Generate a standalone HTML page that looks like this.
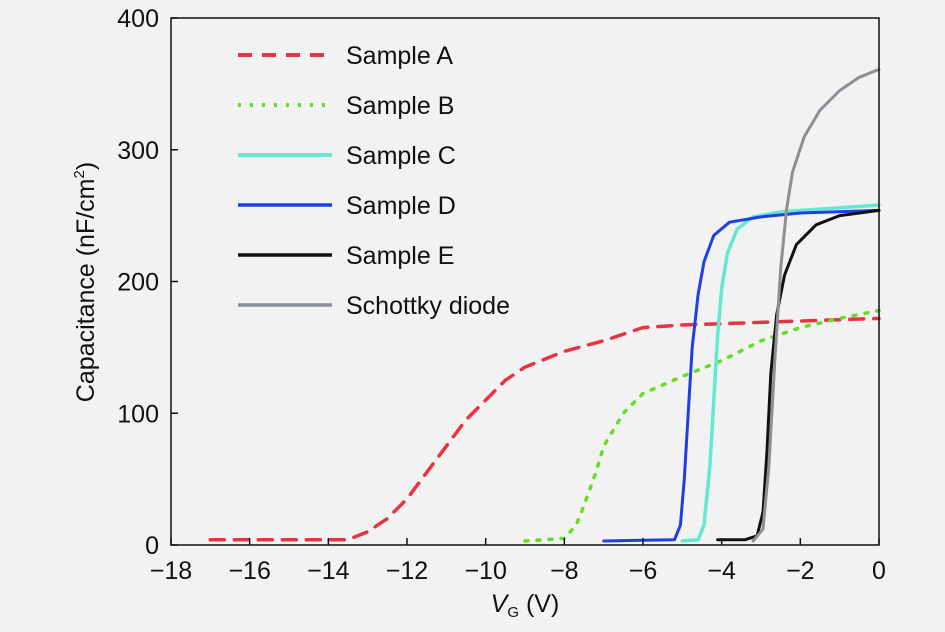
<!DOCTYPE html>
<html><head><meta charset="utf-8"><style>
body{margin:0;background:#f2f2f2;}
svg{display:block;font-family:"Liberation Sans",sans-serif;}
</style></head><body>
<svg id="c" width="945" height="632">
<rect width="945" height="632" fill="#f2f2f2"/>
<g id="marks"></g><g id="axes"></g><g id="legend"></g>
</svg>
<script>
const xTicks=[-18,-16,-14,-12,-10,-8,-6,-4,-2,0];
const yTicks=[0,100,200,300,400];
const seriesNames=["Sample A","Sample B","Sample C","Sample D","Sample E","Schottky diode"];
const aX=[-17,-13.5,-13,-12.5,-12,-11.5,-11,-10.5,-10,-9.5,-9,-8,-7,-6,-5,-4,-2,0];
const aY=[4,4,10,20,35,55,75,95,110,125,135,147,155,165,167,168,170,172];
const bX=[-9,-8,-7.7,-7.5,-7.2,-7,-6.5,-6,-5,-4,-3,-2,-1,0];
const bY=[3,5,15,30,55,75,100,115,128,140,155,165,172,178];
const cX=[-5,-4.6,-4.45,-4.3,-4.2,-4.1,-4,-3.85,-3.6,-3.2,-2.5,-1,0];
const cY=[3,4,15,60,110,160,195,222,240,249,253,256,258];
const dX=[-7,-5.2,-5.05,-4.95,-4.85,-4.75,-4.6,-4.45,-4.2,-3.8,-3,-2,0];
const dY=[3,4,15,50,100,150,190,215,235,245,249,252,254];
const eX=[-4.1,-3.4,-3.1,-2.95,-2.85,-2.75,-2.6,-2.4,-2.1,-1.6,-1,0];
const eY=[4,4,7,25,70,130,175,205,228,243,250,254];
const sX=[-3.2,-2.95,-2.8,-2.65,-2.5,-2.35,-2.2,-1.9,-1.5,-1,-0.5,0];
const sY=[3,12,60,140,210,255,283,310,330,345,355,361];
const X0=171,X1=879,Y0=545,Y1=18;
const sx=v=>X0+(v+18)/18*(X1-X0);
const sy=v=>Y0-v/400*(Y0-Y1);
const NS="http://www.w3.org/2000/svg";
function mk(t,a,p){const e=document.createElementNS(NS,t);for(const k in a)e.setAttribute(k,a[k]);p.appendChild(e);return e;}
const styles=[
 {c:"#e8343e",w:3.5,d:"14 10"},{c:"#66dd22",w:3.5,d:"3 9"},{c:"#66e8d0",w:3.5,d:""},
 {c:"#1f3fe0",w:3,d:""},{c:"#111",w:3,d:""},{c:"#8a9098",w:3,d:""}];
const data=[[aX,aY],[bX,bY],[cX,cY],[dX,dY],[eX,eY],[sX,sY]];
const marks=document.getElementById('marks');
const slugs=["sample-a","sample-b","sample-c","sample-d","sample-e","schottky-diode"];
data.forEach((s,i)=>{
 const p=s[0].map((x,j)=>sx(x).toFixed(1)+","+sy(s[1][j]).toFixed(1)).join(" ");
 const el=mk('polyline',{points:p,fill:"none",stroke:styles[i].c,"stroke-width":styles[i].w,"stroke-dasharray":styles[i].d,"stroke-linecap":"round","stroke-linejoin":"round"},marks);
 
 
});
const ax=document.getElementById('axes');
const fr=mk('rect',{x:X0,y:Y1,width:X1-X0,height:Y0-Y1,fill:"none",stroke:"#111","stroke-width":1.5},ax);


xTicks.forEach(t=>{
 mk('line',{x1:sx(t),x2:sx(t),y1:Y0,y2:Y0-7,stroke:"#111","stroke-width":1.5},ax);
 const tx=mk('text',{x:sx(t),y:Y0+34,"text-anchor":"middle","font-size":25,fill:"#111"},ax);
 tx.textContent=t<0?"\u2212"+(-t):String(t);
 
 
});
yTicks.forEach(t=>{
 mk('line',{x1:X0,x2:X0+7,y1:sy(t),y2:sy(t),stroke:"#111","stroke-width":1.5},ax);
 const tx=mk('text',{x:X0-12,y:sy(t)+9,"text-anchor":"end","font-size":25,fill:"#111"},ax);
 tx.textContent=String(t);
 
 
});
const xt=mk('text',{x:525,y:612,"text-anchor":"middle","font-size":25,fill:"#111"},ax);
xt.innerHTML='<tspan font-style="italic">V</tspan><tspan font-size="15" dy="5">G</tspan><tspan dy="-5"> (V)</tspan>';


const yt=mk('text',{x:0,y:0,transform:"translate(94,282) rotate(-90)","text-anchor":"middle","font-size":25,fill:"#111"},ax);
yt.innerHTML='Capacitance (nF/cm<tspan font-size="15" dy="-10">2</tspan><tspan dy="10">)</tspan>';


const lg=document.getElementById('legend');
seriesNames.forEach((n,i)=>{
 const y=55+i*50;
 const g=mk('g',{},lg);
 
 
 mk('line',{x1:238,x2:332,y1:y,y2:y,stroke:styles[i].c,"stroke-width":styles[i].w+0.5,"stroke-dasharray":styles[i].d},g);
 const t=mk('text',{x:346,y:y+9,"font-size":25,fill:"#111"},g);
 t.textContent=n;
});
</script>
</body></html>
